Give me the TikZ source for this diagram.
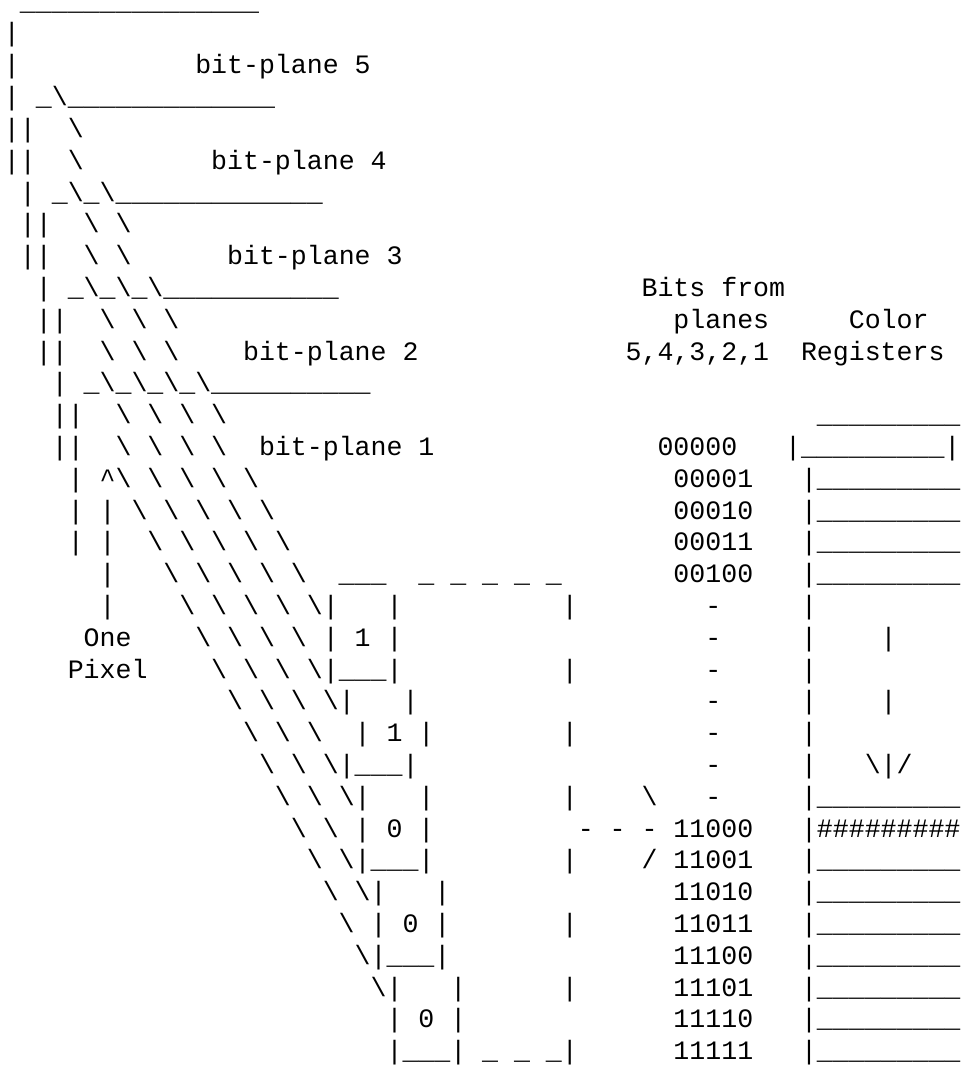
\documentclass[tikz,border=0pt]{standalone}
\usepackage{fontspec}
\newfontfamily\monofam{Liberation Mono}
\ExplSyntaxOn
\NewDocumentCommand\Rep{mm}{\prg_replicate:nn{#1}{#2}}
\ExplSyntaxOff
\newcommand\BSL{\textbackslash}
\tikzset{txt/.style={anchor=base west, inner sep=0pt, outer sep=0pt,
  font=\monofam\fontsize{26.57pt}{31.8pt}\selectfont}}
\newcommand\R[3]{\node[txt] (n#1x#2) at ({4+15.94*#2},{-(10.2+31.8*#1)}) {#3};}
\begin{document}
\begin{tikzpicture}[x=1pt,y=1pt]
\fill[white] (0,0) rectangle (965,-1065);
\useasboundingbox (0,0) rectangle (965,-1065);
% bit-plane stack
\R{0}{1}{\Rep{15}{\_}}
\R{1}{0}{|}
\R{2}{0}{|}
\R{2}{12}{bit-plane~5}
\R{3}{0}{|~\_\BSL\Rep{13}{\_}}
\R{4}{0}{||~~\BSL}
\R{5}{0}{||~~\BSL}
\R{5}{13}{bit-plane~4}
\R{6}{1}{|~\_\BSL\_\BSL\Rep{13}{\_}}
\R{7}{1}{||~~\BSL~\BSL}
\R{8}{1}{||~~\BSL~\BSL}
\R{8}{14}{bit-plane~3}
\R{9}{2}{|~\_\BSL\_\BSL\_\BSL\Rep{11}{\_}}
\R{10}{2}{||~~\BSL~\BSL~\BSL}
\R{11}{2}{||~~\BSL~\BSL~\BSL}
\R{11}{15}{bit-plane~2}
\R{12}{3}{|~\_\BSL\_\BSL\_\BSL\_\BSL\Rep{10}{\_}}
\R{13}{3}{||~~\BSL~\BSL~\BSL~\BSL}
\R{14}{3}{||~~\BSL~\BSL~\BSL~\BSL}
\R{14}{16}{bit-plane~1}
\R{15}{4}{|~\textasciicircum\BSL~\BSL~\BSL~\BSL~\BSL}
\R{16}{4}{|~|~\BSL~\BSL~\BSL~\BSL~\BSL}
\R{17}{4}{|~|~~\BSL~\BSL~\BSL~\BSL~\BSL}
\R{18}{6}{|~~~\BSL~\BSL~\BSL~\BSL~\BSL}
\R{18}{21}{\_\_\_}
\R{18}{26}{\_~\_~\_~\_~\_}
\R{19}{6}{|~~~~\BSL~\BSL~\BSL~\BSL~\BSL|~~~|}
\R{20}{5}{One}
\R{20}{12}{\BSL~\BSL~\BSL~\BSL~|~1~|}
\R{21}{4}{Pixel}
\R{21}{13}{\BSL~\BSL~\BSL~\BSL|\_\_\_|}
\R{22}{14}{\BSL~\BSL~\BSL~\BSL|~~~|}
\R{23}{15}{\BSL~\BSL~\BSL~~|~1~|}
\R{24}{16}{\BSL~\BSL~\BSL|\_\_\_|}
\R{25}{17}{\BSL~\BSL~\BSL|~~~|}
\R{26}{18}{\BSL~\BSL~|~0~|}
\R{27}{19}{\BSL~\BSL|\_\_\_|}
\R{28}{20}{\BSL~\BSL|~~~|}
\R{29}{21}{\BSL~|~0~|}
\R{30}{22}{\BSL|\_\_\_|}
\R{31}{23}{\BSL|~~~|}
\R{32}{24}{|~0~|}
\R{33}{24}{|\_\_\_|~\_~\_~\_|}
% dashed bracket
\foreach \r in {19,21,...,31} {\R{\r}{35}{|}}
\R{25}{40}{\BSL}
\R{26}{36}{-~-~-}
\R{27}{40}{/}
% bits column
\R{9}{40}{Bits~from}
\R{10}{42}{planes}
\R{11}{39}{5,4,3,2,1}
\R{14}{41}{00000}
\foreach \r/\v in {15/00001,16/00010,17/00011,18/00100,26/11000,27/11001,28/11010,29/11011,30/11100,31/11101,32/11110,33/11111} {\R{\r}{42}{\v}}
\foreach \r in {19,...,25} {\R{\r}{44}{-}}
% colour registers
\R{10}{53}{Color}
\R{11}{50}{Registers}
\R{13}{51}{\Rep{9}{\_}}
\R{14}{49}{|\Rep{9}{\_}|}
\foreach \r in {15,16,17,18,25,27,28,29,30,31,32,33} {\R{\r}{50}{|\Rep{9}{\_}}}
\foreach \r in {19,...,24} {\R{\r}{50}{|}}
\R{26}{50}{|\Rep{9}{\#}}
\R{20}{55}{|}
\R{22}{55}{|}
\R{24}{54}{\BSL|/}
\end{tikzpicture}
\end{document}
